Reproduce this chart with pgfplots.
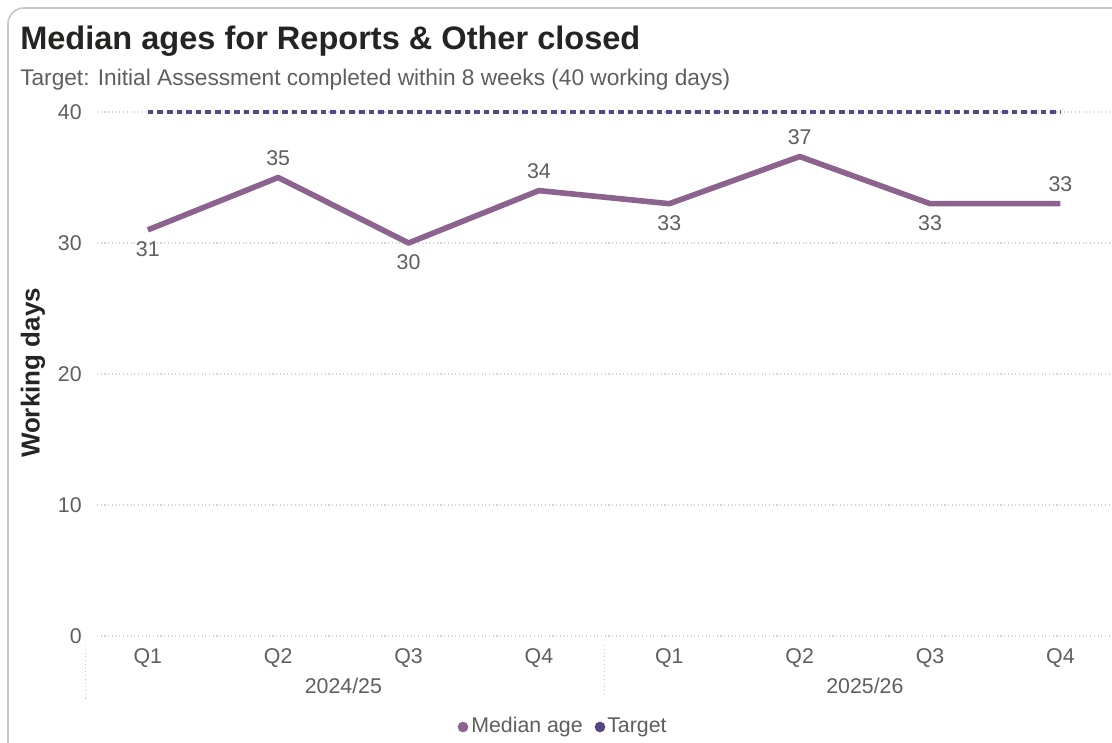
\documentclass[border=0pt]{standalone}
\usepackage{pgfplots}
\pgfplotsset{compat=1.18}
\usepackage{fontspec}
\setmainfont{Liberation Sans}
\definecolor{med}{HTML}{8C628E}
\definecolor{tgt}{HTML}{564686}
\definecolor{lbl}{HTML}{605E5C}
\definecolor{ttl}{HTML}{252423}
\begin{document}
\begin{tikzpicture}[x=0.75pt,y=0.75pt]
\useasboundingbox (0,0) rectangle (1112,742);
\draw[gray!45, line width=1.2pt, rounded corners=12pt] (8,-30) -- (8,734) -- (1150,734);
\node[anchor=base west, font=\bfseries\fontsize{24.4}{28}\selectfont, text=ttl, inner sep=0] at (20,692) {Median ages for Reports \& Other closed};
\node[anchor=base west, font=\fontsize{17}{20}\selectfont, text=lbl, inner sep=0] at (20,656) {Target: Initial Assessment completed within 8 weeks (40 working days)};
\node[rotate=90, font=\bfseries\fontsize{19.5}{22}\selectfont, text=ttl, inner sep=0] at (33,369) {Working days};
\begin{axis}[
  at={(72.75pt,79.5pt)}, anchor=south west,
  scale only axis, width=759.75pt, height=393pt,
  xmin=-0.39, xmax=7.38, ymin=0, ymax=40,
  clip=false,
  axis line style={draw=none},
  major tick length=0pt,
  ytick={0,10,20,30,40},
  ymajorgrids,
  grid style={gray!35, line width=0.8pt, dotted},
  xtick={0,...,7},
  xticklabels={Q1,Q2,Q3,Q4,Q1,Q2,Q3,Q4},
  /pgf/number format/assume math mode=true,
  tick label style={font=\fontsize{16}{19}\selectfont, text=lbl},
  yticklabel style={xshift=-8pt},
  xticklabel style={yshift=-6pt},
]
\addplot[color=tgt, line width=2.6pt, dash pattern=on 4.2pt off 3pt] coordinates {(0,40) (7,40)};
\addplot[color=med, line width=4.2pt, line join=round] coordinates {
(0,31) (1,35) (2,30) (3,34) (4,33) (5,36.6) (6,33) (7,33)};
% labels above
\addplot[draw=none, point meta=explicit symbolic, nodes near coords,
  every node near coord/.append style={font=\fontsize{16}{19}\selectfont, text=lbl, anchor=center, yshift=14.6pt}]
  coordinates {(1,35) [35] (3,34) [34] (5,36.6) [37] (7,33) [33]};
% labels below
\addplot[draw=none, point meta=explicit symbolic, nodes near coords,
  every node near coord/.append style={font=\fontsize{16}{19}\selectfont, text=lbl, anchor=center, yshift=-14.6pt}]
  coordinates {(0,31) [31] (2,30) [30] (4,33) [33] (6,33) [33]};
\draw[gray!40, line width=0.8pt, dotted] (axis cs:-0.48,-0.7) -- (axis cs:-0.48,-4.9);
\draw[gray!40, line width=0.8pt, dotted] (axis cs:3.5,-0.7) -- (axis cs:3.5,-4.5);
\node[font=\fontsize{16}{19}\selectfont, text=lbl] at (axis cs:1.5,-3.82) {2024/25};
\node[font=\fontsize{16}{19}\selectfont, text=lbl] at (axis cs:5.5,-3.82) {2025/26};
\end{axis}
\node[circle, fill=med, inner sep=0, minimum size=8pt] at (463,15) {};
\node[anchor=west, font=\fontsize{16}{19}\selectfont, text=lbl, inner sep=0] at (471,15) {Median age};
\node[circle, fill=tgt, inner sep=0, minimum size=8pt] at (600,15) {};
\node[anchor=west, font=\fontsize{16}{19}\selectfont, text=lbl, inner sep=0] at (607,15) {Target};
\end{tikzpicture}
\end{document}
